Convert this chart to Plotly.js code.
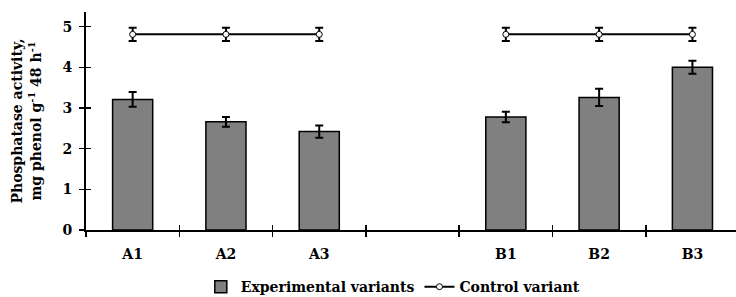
<!DOCTYPE html>
<html>
<head>
<meta charset="utf-8">
<script src="https://cdn.plot.ly/plotly-3.0.1.min.js"></script>
<style>html,body{margin:0;padding:0;background:#fff;}#chart{width:736px;height:297px;}</style>
</head>
<body>
<div id="chart"></div>
<script>
var categories = ["A1", "A2", "A3", " ", "B1", "B2", "B3"];
var experimental = [3.21, 2.66, 2.42, null, 2.78, 3.26, 4.00];
var experimentalErr = [0.18, 0.12, 0.15, null, 0.13, 0.21, 0.16];
var control = [4.81, 4.81, 4.81, null, 4.81, 4.81, 4.81];
var controlErr = [0.16, 0.16, 0.16, null, 0.16, 0.16, 0.16];
var boundaries = [-0.5, 0.5, 1.5, 2.5, 3.5, 4.5, 5.5, 6.5];
var yTicks = [0, 1, 2, 3, 4, 5];

var serif = "DejaVu Serif, Liberation Serif, serif";

var traces = [
  {
    type: "bar", name: "Experimental variants",
    x: categories, y: experimental,
    marker: {color: "#808080", line: {color: "#000", width: 1.5}},
    error_y: {type: "data", array: experimentalErr, visible: true, color: "#000", thickness: 2, width: 4},
    hoverinfo: "x+y"
  },
  {
    type: "scatter", mode: "lines+markers", name: "Control variant",
    x: categories, y: control, connectgaps: false,
    line: {color: "#000", width: 2},
    marker: {symbol: "circle", size: 6, color: "#fff", line: {color: "#000", width: 1}},
    error_y: {type: "data", array: controlErr, visible: true, color: "#000", thickness: 2, width: 4}
  }
];

var layout = {
  width: 736, height: 297,
  margin: {l: 86, r: 0, t: 12, b: 67, autoexpand: false},
  paper_bgcolor: "#fff", plot_bgcolor: "#fff",
  bargap: 0.57,
  showlegend: true,
  legend: {orientation: "h", x: 0.472, xanchor: "center", y: -0.262, yanchor: "middle",
           font: {family: serif, size: 14, color: "#000", weight: 700}, itemwidth: 30, tracegroupgap: 0},
  xaxis: {
    type: "category", categoryorder: "array", categoryarray: categories,
    range: [-0.5, 6.467], tickson: "boundaries",
    ticks: "outside", ticklen: 5, tickwidth: 1.5, tickcolor: "#000",
    showline: true, linecolor: "#000", linewidth: 2, showgrid: false, zeroline: false,
    tickfont: {family: serif, size: 14, color: "#000", weight: 700},
    ticklabelstandoff: 10, fixedrange: true
  },
  xaxis2: {
    overlaying: "x", anchor: "y", side: "bottom", range: [-0.5, 6.467],
    tickmode: "array", tickvals: boundaries, showticklabels: false,
    ticks: "inside", ticklen: 5, tickwidth: 1.5, tickcolor: "#000",
    showline: false, showgrid: false, zeroline: false
  },
  yaxis: {
    range: [0, 5.36], tickmode: "array", tickvals: yTicks,
    ticks: "outside", ticklen: 5, tickwidth: 1.5, tickcolor: "#000",
    showline: true, linecolor: "#000", linewidth: 2, showgrid: false, zeroline: false,
    tickfont: {family: serif, size: 14, color: "#000", weight: 700},
    ticklabelstandoff: 4,
    title: {text: "Phosphatase activity,<br>mg phenol g<sup>-1</sup> 48 h<sup>-1</sup>",
            font: {family: serif, size: 14, color: "#000", weight: 700}, standoff: 18}
  },
  yaxis2: {
    overlaying: "y", anchor: "x", side: "left", range: [0, 5.36],
    tickmode: "array", tickvals: yTicks, showticklabels: false,
    ticks: "inside", ticklen: 5, tickwidth: 1.5, tickcolor: "#000",
    showline: false, showgrid: false, zeroline: false
  }
};

// invisible helper trace so overlay axes draw their tick marks
traces.push({type: "scatter", mode: "markers", x: [0], y: [0], xaxis: "x2", yaxis: "y2",
  marker: {opacity: 0}, showlegend: false, hoverinfo: "skip"});

Plotly.newPlot("chart", traces, layout, {displayModeBar: false, staticPlot: true});
</script>
</body>
</html>
